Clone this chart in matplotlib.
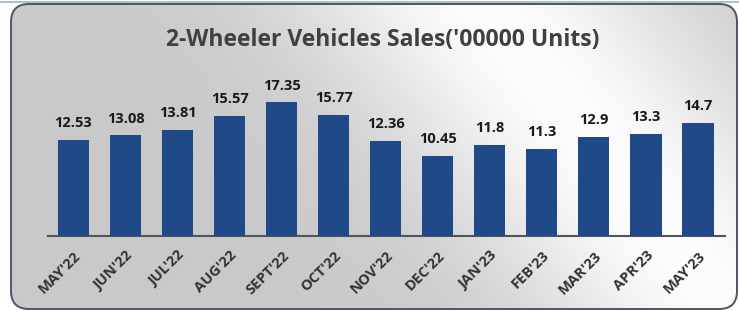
import numpy as np
import matplotlib.pyplot as plt
import matplotlib.transforms as mtransforms
from matplotlib.patches import FancyBboxPatch

months = ["MAY'22", "JUN'22", "JUL'22", "AUG'22", "SEPT'22", "OCT'22", "NOV'22",
          "DEC'22", "JAN'23", "FEB'23", "MAR'23", "APR'23", "MAY'23"]
sales = [12.53, 13.08, 13.81, 15.57, 17.35, 15.77, 12.36,
         10.45, 11.8, 11.3, 12.9, 13.3, 14.7]
value_labels = ["12.53", "13.08", "13.81", "15.57", "17.35", "15.77", "12.36",
                "10.45", "11.8", "11.3", "12.9", "13.3", "14.7"]

plt.rcParams['font.family'] = ['Open Sans', 'DejaVu Sans']

W, H = 739, 311
fig = plt.figure(figsize=(W / 100, H / 100), dpi=100)
fig.patch.set_facecolor('white')

# background frame with gray gradient
bg = fig.add_axes([0, 0, 1, 1])
bg.set_xlim(0, W)
bg.set_ylim(H, 0)
bg.axis('off')

gx = np.linspace(0, 1, 300)
gy = np.linspace(0, 1, 120)
GX, GY = np.meshgrid(gx, gy)
d = GX * 0.75 + (1 - GY) * 0.25
shade = 0.79 + 0.20 * np.exp(-((d - 0.74) / 0.2) ** 2)
shade = np.clip(shade, 0, 1)
img = np.dstack([shade, shade, np.clip(shade * 1.005, 0, 1)])
im = bg.imshow(img, extent=[11, 737, 309, 4], aspect='auto', zorder=1)

frame = FancyBboxPatch((11, 4), 726, 305, boxstyle="round,pad=0,rounding_size=18",
                       facecolor='none', edgecolor='#4a5566', linewidth=1.4, zorder=2)
bg.add_patch(frame)
im.set_clip_path(frame)
bg.plot([0, W], [2, 2], color='#aebfd4', lw=1.5, zorder=0)

fig.text(383 / W, 1 - 40 / H, "2-Wheeler Vehicles Sales('00000 Units)",
         ha='center', va='center', fontsize=16.5, fontweight='bold', color='#404040')

# main chart
ax = fig.add_axes([48 / W, (H - 236) / H, 677 / W, 154 / H])
ax.patch.set_alpha(0)
x = np.arange(len(months))
ax.bar(x, sales, width=0.6, color='#1f4a87', zorder=3)
ax.set_xlim(-0.49, 12.52)
ax.set_ylim(0, 20)

for xi, v, lab in zip(x, sales, value_labels):
    ax.annotate(lab, (xi, v), xytext=(0, 7), textcoords='offset points',
                ha='center', va='bottom', fontsize=10.5, fontweight='bold', color='#1a1a1a')

for s in ['top', 'right', 'left']:
    ax.spines[s].set_visible(False)
ax.spines['bottom'].set_color('#555555')
ax.spines['bottom'].set_linewidth(1.5)
ax.set_yticks([])
ax.set_xticks(x)
ax.set_xticklabels(months, rotation=45, ha='right', rotation_mode='anchor',
                   fontsize=10.5, fontweight='bold', color='#333333')
shift = mtransforms.ScaledTranslation(5 / 100, -4 / 100, fig.dpi_scale_trans)
for t in ax.get_xticklabels():
    t.set_transform(t.get_transform() + shift)
ax.tick_params(axis='x', length=0, pad=9)

fig.savefig('out.png', dpi=100)
